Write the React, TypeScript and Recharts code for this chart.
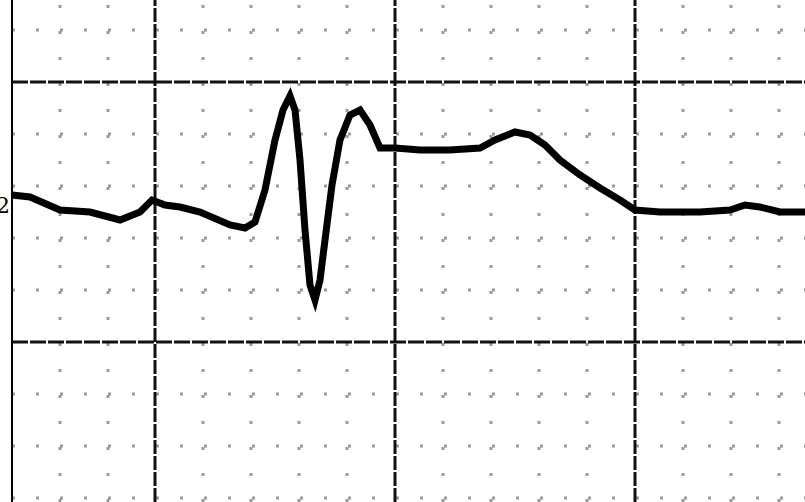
import { LineChart, Line, XAxis, YAxis, ReferenceLine } from 'recharts';

// trace samples: time (px from left edge of plot) and level (px from top)
const times = [0, 18, 48, 78, 108, 128, 140, 153, 168, 188, 218, 233, 243, 253, 263, 271, 278, 283, 288, 293, 298, 303, 308, 313, 320, 328, 338, 348, 358, 368, 383, 408, 438, 468, 483, 503, 518, 533, 548, 568, 588, 608, 623, 648, 688, 718, 733, 748, 768, 793];
const levels = [195, 197, 210, 212, 220, 212, 200, 205, 207, 212, 225, 228, 222, 190, 140, 110, 96, 110, 160, 230, 285, 300, 280, 240, 185, 140, 115, 110, 125, 148, 148, 150, 150, 148, 140, 132, 135, 145, 160, 175, 188, 200, 210, 212, 212, 210, 205, 207, 212, 212];

const majorX = [143, 383, 623];
const majorY = [82, 342];
const minorX = [48, 96, 191, 239, 287, 335, 431, 479, 527, 575, 671, 719, 767];
const minorY = [30, 134, 186, 238, 290, 394, 446, 498];

const data = times.map((t, i) => ({ t, v: levels[i] }));

export default function App() {
  return (
    <div style={{ position: 'fixed', left: 0, top: 0, width: 805, height: 502, background: '#fff', overflow: 'hidden' }}>
      <LineChart width={805} height={502} data={data} margin={{ top: 0, right: 0, bottom: 0, left: 12 }}>
        <XAxis dataKey="t" type="number" domain={[0, 793]} hide />
        <YAxis type="number" domain={[0, 502]} reversed hide />
        {minorX.map((x) => (
          <ReferenceLine key={'mx' + x} x={x} stroke="#999" strokeWidth={3} strokeDasharray="3 23" />
        ))}
        {minorY.map((y) => (
          <ReferenceLine key={'my' + y} y={y} stroke="#999" strokeWidth={3} strokeDasharray="3 21" />
        ))}
        {majorX.map((x) => (
          <ReferenceLine key={'Mx' + x} x={x} stroke="#111" strokeWidth={3} strokeDasharray="14 2" />
        ))}
        {majorY.map((y) => (
          <ReferenceLine key={'My' + y} y={y} stroke="#111" strokeWidth={3} strokeDasharray="16 2" />
        ))}
        <ReferenceLine x={0} stroke="#000" strokeWidth={2} />
        <Line dataKey="v" type="linear" stroke="#000" strokeWidth={7} dot={false} isAnimationActive={false} />
      </LineChart>
      <div style={{ position: 'absolute', left: -4, top: 194, fontFamily: 'DejaVu Serif', fontSize: 22, lineHeight: '24px' }}>2</div>
    </div>
  );
}
